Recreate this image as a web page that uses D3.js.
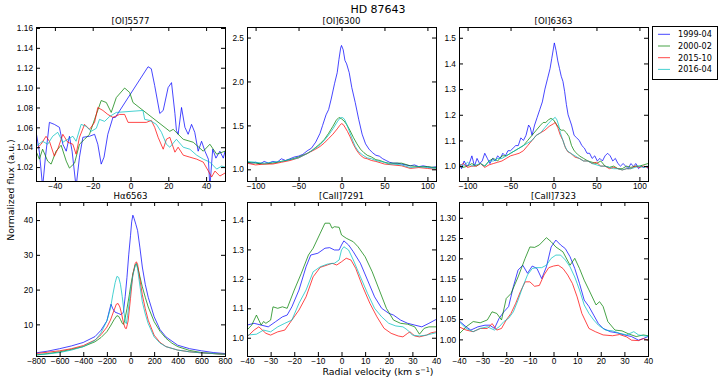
<!DOCTYPE html>
<html>
<head>
<meta charset="utf-8">
<script src="https://cdn.jsdelivr.net/npm/d3@7"></script>
<style>
  body { margin: 0; background: #fff; }
  svg { font-family: 'DejaVu Sans', sans-serif; }
  .tick text { font-size: 8.3px; fill: #000; }
  .tick line { stroke: #000; }
  .frame { fill: none; stroke: #000; stroke-width: 1; shape-rendering: crispEdges; }
  .line { fill: none; stroke-width: 1; stroke-opacity: 0.72; }
  .subtitle { font-size: 8.6px; text-anchor: middle; }
</style>
</head>
<body>
<svg id="chart" width="720" height="379"></svg>
<script>
// legend entries
const epochs = ['1999-04', '2000-02', '2015-10', '2016-04']

// [OI]5577 : [velocity, flux]
const oi5577_1999 = [[-50, 1.056], [-48.2, 1.035], [-46.5, 1.0], [-45, 1.03], [-42.9, 1.065], [-40.3, 1.063], [-37.6, 1.06], [-35.8, 1.043], [-34, 1.036], [-32.3, 1.051], [-30.9, 1.036], [-28.8, 1.0], [-27, 1.03], [-25.2, 1.05], [-21.7, 1.051], [-19, 1.053], [-17.3, 1.043], [-15.5, 1.023], [-14, 1.03], [-12, 1.053], [-9.3, 1.07], [-8, 1.07], [9.3, 1.121], [11, 1.119], [12.8, 1.102], [15.5, 1.074], [17.3, 1.077], [19.9, 1.1], [21.7, 1.105], [23.5, 1.074], [24.3, 1.057], [25.2, 1.053], [27, 1.08], [28.8, 1.06], [30.5, 1.053], [32.3, 1.063], [34, 1.055], [35.8, 1.036], [37.6, 1.046], [39.4, 1.036], [41.2, 1.028], [42, 1.0], [43.5, 1.038], [45.2, 1.029], [47.3, 1.036], [49.1, 1.029], [50, 1.036]]
const oi5577_2000 = [[-50, 1.036], [-48.2, 1.028], [-46.5, 1.038], [-43.8, 1.026], [-42, 1.023], [-39.4, 1.036], [-36.7, 1.042], [-34, 1.026], [-32.3, 1.019], [-29.6, 1.024], [-27, 1.043], [-24.3, 1.048], [-21.7, 1.053], [-19, 1.068], [-15.5, 1.087], [-12.8, 1.085], [-10.2, 1.075], [-7.5, 1.09], [-3.1, 1.0996], [-0.4, 1.095], [1.3, 1.085], [20.8, 1.056], [22.6, 1.058], [27.9, 1.048], [33.2, 1.045], [38.5, 1.036], [42, 1.043], [45.6, 1.033], [50, 1.036]]
const oi5577_2015 = [[-50, 1.038], [-47.3, 1.043], [-44.7, 1.051], [-42.9, 1.046], [-40.3, 1.031], [-38.5, 1.038], [-35.8, 1.053], [-33.2, 1.045], [-30.5, 1.043], [-28.8, 1.033], [-27, 1.05], [-24.3, 1.063], [-21.7, 1.058], [-19, 1.065], [-17.3, 1.08], [-14.6, 1.077], [-12, 1.073], [-9.3, 1.07], [-5.8, 1.073], [-3.1, 1.073], [-1.3, 1.065], [8.4, 1.065], [11, 1.067], [12.8, 1.06], [14.6, 1.05], [17.3, 1.038], [19, 1.048], [20.8, 1.05], [23.5, 1.035], [25.2, 1.04], [27.9, 1.032], [31.4, 1.03], [35, 1.028], [38.5, 1.025], [41.2, 1.016], [42.9, 1.01], [44.7, 1.016], [47.3, 1.011], [50, 1.014]]
const oi5577_2016 = [[-50, 1.041], [-46.5, 1.046], [-43.8, 1.043], [-41.2, 1.051], [-38.5, 1.055], [-35.8, 1.045], [-33.2, 1.048], [-30.5, 1.051], [-28.8, 1.046], [-26.1, 1.063], [-23.5, 1.061], [-20.8, 1.056], [-18.1, 1.059], [-16.4, 1.068], [-13.7, 1.066], [-11, 1.071], [-7.5, 1.075], [6.6, 1.077], [7.5, 1.068], [10.2, 1.067], [13.7, 1.063], [16.4, 1.055], [19, 1.043], [20.8, 1.04], [24.3, 1.048], [27.9, 1.04], [31.4, 1.038], [35, 1.032], [38.5, 1.028], [42, 1.025], [45.6, 1.018], [48.2, 1.021], [50, 1.02]]

// [OI]6300
const oi6300_1999 = [[-110, 1.08], [-105, 1.07], [-100, 1.08], [-95, 1.06], [-90, 1.09], [-85, 1.07], [-80, 1.09], [-75, 1.08], [-70, 1.12], [-65, 1.1], [-60, 1.12], [-55, 1.14], [-50, 1.15], [-45, 1.17], [-40, 1.21], [-35, 1.24], [-30, 1.31], [-25, 1.41], [-22, 1.5], [-18, 1.62], [-15, 1.68], [-12, 1.8], [-8, 1.98], [-5, 2.1], [-3, 2.25], [-1, 2.38], [0, 2.41], [2, 2.36], [4, 2.24], [6, 2.2], [9, 2.1], [12, 1.93], [16, 1.76], [20, 1.57], [24, 1.4], [28, 1.29], [32, 1.23], [36, 1.19], [40, 1.16], [44, 1.15], [48, 1.12], [52, 1.1], [56, 1.08], [60, 1.07], [65, 1.07], [70, 1.06], [75, 1.05], [80, 1.04], [85, 1.05], [90, 1.03], [95, 1.04], [100, 1.03], [105, 1.02], [110, 1.03]]
const oi6300_2000 = [[-110, 1.08], [-100, 1.07], [-90, 1.06], [-80, 1.07], [-70, 1.09], [-60, 1.11], [-50, 1.14], [-45, 1.16], [-40, 1.18], [-35, 1.21], [-30, 1.25], [-25, 1.29], [-20, 1.34], [-15, 1.41], [-10, 1.49], [-6, 1.56], [-3, 1.59], [0, 1.575], [3, 1.55], [6, 1.51], [10, 1.44], [14, 1.36], [18, 1.29], [22, 1.23], [26, 1.19], [30, 1.16], [35, 1.14], [40, 1.11], [45, 1.1], [50, 1.08], [55, 1.07], [60, 1.07], [70, 1.07], [80, 1.04], [90, 1.03], [100, 1.03], [110, 1.02]]
const oi6300_2015 = [[-110, 1.07], [-100, 1.05], [-90, 1.06], [-80, 1.06], [-70, 1.08], [-60, 1.1], [-50, 1.13], [-40, 1.18], [-30, 1.23], [-25, 1.26], [-20, 1.3], [-15, 1.35], [-10, 1.4], [-5, 1.46], [-2, 1.5], [0, 1.52], [2, 1.51], [4, 1.48], [7, 1.43], [10, 1.37], [14, 1.28], [18, 1.21], [22, 1.16], [26, 1.13], [30, 1.12], [35, 1.1], [40, 1.09], [50, 1.06], [60, 1.05], [70, 1.04], [80, 1.01], [90, 1.02], [100, 1.01], [110, 1.0]]
const oi6300_2016 = [[-110, 1.09], [-100, 1.08], [-90, 1.07], [-80, 1.08], [-70, 1.09], [-60, 1.11], [-50, 1.13], [-40, 1.18], [-30, 1.24], [-25, 1.28], [-20, 1.33], [-15, 1.39], [-10, 1.46], [-5, 1.54], [-2, 1.58], [0, 1.59], [2, 1.585], [4, 1.56], [7, 1.49], [10, 1.41], [13, 1.33], [16, 1.26], [20, 1.2], [25, 1.16], [30, 1.13], [35, 1.12], [40, 1.1], [50, 1.08], [55, 1.06], [60, 1.06], [70, 1.05], [80, 1.02], [90, 1.03], [100, 1.02], [110, 1.01]]

// [OI]6363
const oi6363_1999 = [[-110, 1.01], [-107, 0.99], [-104, 1.02], [-101, 1.0], [-98, 1.01], [-95, 1.04], [-92, 1.0], [-89, 1.03], [-86, 1.01], [-83, 1.02], [-80, 1.05], [-77, 1.03], [-74, 1.01], [-71, 1.03], [-68, 1.02], [-65, 1.04], [-62, 1.03], [-59, 1.05], [-56, 1.04], [-53, 1.06], [-50, 1.06], [-47, 1.07], [-44, 1.08], [-41, 1.08], [-38, 1.11], [-35, 1.1], [-32, 1.12], [-29, 1.16], [-27, 1.15], [-25, 1.12], [-22, 1.16], [-19, 1.19], [-16, 1.22], [-13, 1.25], [-10, 1.3], [-7, 1.34], [-4, 1.38], [-2, 1.42], [0, 1.46], [1, 1.48], [3, 1.45], [5, 1.41], [7, 1.38], [9, 1.35], [11, 1.33], [13, 1.29], [15, 1.24], [17, 1.2], [19, 1.18], [21, 1.16], [24, 1.12], [27, 1.11], [30, 1.1], [33, 1.08], [36, 1.07], [39, 1.05], [42, 1.05], [45, 1.03], [48, 1.04], [51, 1.02], [54, 1.03], [57, 1.02], [60, 1.04], [63, 1.05], [66, 1.04], [69, 1.02], [72, 1.03], [75, 1.01], [78, 1.0], [81, 1.01], [84, 1.0], [87, 0.99], [90, 1.01], [93, 1.0], [96, 1.01], [99, 0.99], [102, 1.0], [105, 0.995], [108, 1.0], [110, 0.99]]
const oi6363_2000 = [[-110, 1.0], [-105, 0.995], [-100, 1.0], [-95, 1.01], [-90, 1.0], [-85, 1.01], [-80, 1.0], [-75, 1.02], [-70, 1.03], [-65, 1.02], [-60, 1.04], [-55, 1.04], [-50, 1.05], [-45, 1.06], [-40, 1.07], [-35, 1.08], [-30, 1.1], [-25, 1.12], [-20, 1.14], [-15, 1.16], [-12, 1.17], [-9, 1.17], [-6, 1.18], [-3, 1.186], [0, 1.18], [3, 1.165], [6, 1.15], [9, 1.14], [12, 1.14], [15, 1.13], [18, 1.115], [21, 1.08], [24, 1.06], [27, 1.05], [30, 1.04], [35, 1.03], [40, 1.02], [45, 1.015], [50, 1.01], [55, 1.02], [60, 1.0], [65, 0.995], [70, 1.0], [75, 0.99], [80, 0.99], [85, 1.0], [90, 0.995], [95, 1.0], [100, 1.0], [105, 1.005], [110, 1.01]]
const oi6363_2015 = [[-110, 1.0], [-105, 1.01], [-100, 0.995], [-95, 1.0], [-90, 1.0], [-85, 1.01], [-80, 0.995], [-75, 1.005], [-70, 1.01], [-65, 1.015], [-60, 1.02], [-55, 1.03], [-50, 1.04], [-45, 1.045], [-40, 1.05], [-35, 1.06], [-30, 1.08], [-25, 1.1], [-20, 1.12], [-15, 1.13], [-10, 1.14], [-5, 1.155], [0, 1.165], [2, 1.17], [5, 1.15], [8, 1.12], [11, 1.1], [14, 1.07], [17, 1.055], [20, 1.05], [25, 1.035], [30, 1.03], [35, 1.02], [40, 1.02], [45, 1.01], [50, 1.015], [55, 1.0], [60, 1.0], [65, 0.99], [70, 0.995], [75, 0.99], [80, 0.985], [85, 0.99], [90, 0.99], [95, 1.0], [100, 0.995], [105, 1.0], [110, 0.995]]
const oi6363_2016 = [[-110, 1.01], [-105, 1.0], [-100, 1.015], [-95, 1.0], [-90, 1.005], [-85, 1.01], [-80, 1.0], [-75, 1.02], [-70, 1.02], [-65, 1.03], [-60, 1.03], [-55, 1.04], [-50, 1.05], [-45, 1.06], [-40, 1.07], [-35, 1.08], [-30, 1.09], [-25, 1.1], [-20, 1.12], [-15, 1.13], [-10, 1.15], [-5, 1.17], [-2, 1.18], [0, 1.185], [2, 1.19], [4, 1.18], [6, 1.16], [8, 1.13], [10, 1.11], [13, 1.08], [16, 1.06], [20, 1.05], [25, 1.04], [30, 1.03], [35, 1.02], [40, 1.02], [45, 1.01], [50, 1.005], [55, 1.0], [60, 1.0], [65, 0.995], [70, 0.99], [75, 0.99], [80, 0.985], [85, 0.99], [90, 0.99], [95, 0.995], [100, 1.0], [105, 0.995], [110, 1.0]]

// Halpha 6563
const ha6563_1999 = [[-800, 1.8], [-700, 2.3], [-600, 3.0], [-500, 3.8], [-400, 4.8], [-300, 6.5], [-250, 8.3], [-200, 11.0], [-180, 13.8], [-165, 15.8], [-150, 14.5], [-130, 13.5], [-100, 13.1], [-80, 12.8], [-60, 13.5], [-45, 18], [-30, 23.5], [-15, 30], [0, 35.5], [10, 39.5], [20, 41.4], [30, 40.5], [45, 38.8], [60, 37.0], [80, 32.0], [100, 26.5], [125, 21.5], [150, 17.8], [200, 12.2], [250, 8.5], [300, 6.4], [400, 4.0], [500, 3.0], [600, 2.4], [700, 1.9], [800, 1.6]]
const ha6563_2000 = [[-800, 1.2], [-700, 1.6], [-600, 2.1], [-500, 2.8], [-400, 3.6], [-300, 5.0], [-250, 6.2], [-200, 7.9], [-170, 9.5], [-140, 11.3], [-115, 12.5], [-100, 12.3], [-85, 11.4], [-70, 10.3], [-60, 10.0], [-50, 11.0], [-30, 14.5], [-10, 18.5], [0, 20.8], [20, 24.5], [40, 27.0], [50, 27.5], [60, 26.5], [80, 23.7], [100, 20.8], [125, 17.8], [150, 15.0], [200, 10.8], [250, 8.0], [300, 6.0], [350, 4.6], [400, 3.6], [500, 2.5], [600, 1.9], [700, 1.6], [800, 1.4]]
const ha6563_2015 = [[-800, 1.6], [-700, 2.0], [-600, 2.4], [-500, 3.0], [-400, 3.9], [-300, 5.5], [-250, 7.0], [-200, 9.2], [-170, 11.2], [-140, 14.0], [-120, 15.8], [-105, 16.0], [-90, 15.0], [-75, 13.0], [-60, 10.5], [-45, 8.9], [-35, 8.8], [-20, 11], [0, 17.5], [20, 24.5], [40, 27.5], [50, 28.0], [60, 27.3], [80, 22.8], [100, 18.5], [125, 14.5], [150, 11.2], [200, 6.9], [250, 4.8], [300, 3.6], [400, 2.6], [500, 2.1], [600, 1.8], [700, 1.6], [800, 1.4]]
const ha6563_2016 = [[-800, 1.2], [-700, 1.5], [-600, 1.9], [-500, 2.6], [-400, 3.6], [-300, 5.4], [-250, 7.5], [-200, 11.0], [-170, 14.5], [-150, 18.5], [-130, 22.0], [-115, 23.8], [-100, 23.5], [-85, 21.5], [-70, 18.0], [-55, 13.5], [-45, 10.8], [-35, 10.2], [-25, 12.5], [-10, 16.5], [0, 19.5], [20, 24.0], [40, 27.0], [50, 27.4], [60, 26.0], [80, 21.0], [100, 16.5], [125, 13.0], [150, 10.2], [200, 6.4], [250, 4.6], [300, 3.6], [400, 2.6], [500, 2.1], [600, 1.8], [700, 1.6], [800, 1.4]]

// [CaII]7291
const ca7291_1999 = [[-40, 1.043], [-37, 1.049], [-34, 1.043], [-31, 1.037], [-28, 1.054], [-25, 1.071], [-23, 1.077], [-21, 1.105], [-18, 1.162], [-15, 1.241], [-13, 1.281], [-10, 1.287], [-7, 1.304], [-5, 1.306], [-3, 1.298], [-1, 1.298], [0, 1.315], [1, 1.329], [3, 1.315], [5, 1.292], [8, 1.253], [11, 1.196], [14, 1.139], [17, 1.1], [20, 1.083], [22, 1.077], [25, 1.06], [28, 1.049], [31, 1.043], [34, 1.037], [37, 1.049], [40, 1.062]]
const ca7291_2000 = [[-40, 1.026], [-38, 1.043], [-36, 1.077], [-34, 1.043], [-33, 1.055], [-32, 1.049], [-30, 1.06], [-29, 1.105], [-27, 1.1], [-25, 1.105], [-23, 1.1], [-20, 1.162], [-17, 1.219], [-14, 1.281], [-12, 1.304], [-9, 1.355], [-7, 1.389], [-5, 1.389], [-4, 1.372], [-3, 1.377], [-1, 1.375], [0, 1.349], [2, 1.338], [5, 1.326], [7, 1.309], [10, 1.275], [13, 1.224], [16, 1.162], [19, 1.1], [22, 1.06], [25, 1.049], [28, 1.046], [31, 1.037], [33, 1.012], [35, 1.032], [37, 1.037], [40, 1.037]]
const ca7291_2015 = [[-40, 1.003], [-37, 1.026], [-35, 1.037], [-32, 1.015], [-30, 1.009], [-27, 1.02], [-24, 1.026], [-21, 1.06], [-18, 1.094], [-15, 1.139], [-12, 1.207], [-9, 1.239], [-6, 1.247], [-4, 1.253], [-2, 1.247], [0, 1.258], [2, 1.27], [4, 1.264], [6, 1.236], [9, 1.173], [12, 1.117], [15, 1.071], [18, 1.032], [21, 1.015], [24, 1.006], [26, 1.003], [28, 1.015], [29, 1.02], [31, 1.006], [33, 1.003], [36, 1.009], [38, 1.017], [40, 1.02]]
const ca7291_2016 = [[-40, 1.009], [-36, 1.012], [-33, 1.026], [-30, 1.02], [-27, 1.037], [-24, 1.049], [-21, 1.06], [-18, 1.117], [-15, 1.162], [-12, 1.224], [-9, 1.241], [-6, 1.25], [-3, 1.253], [-1, 1.264], [0, 1.298], [1, 1.309], [3, 1.298], [5, 1.264], [8, 1.207], [11, 1.151], [14, 1.1], [17, 1.071], [20, 1.049], [23, 1.04], [26, 1.037], [28, 1.026], [30, 1.009], [33, 1.006], [36, 1.009], [40, 1.017]]

// [CaII]7323
const ca7323_1999 = [[-40, 1.046], [-37, 1.031], [-35, 1.023], [-32, 1.031], [-29, 1.035], [-27, 1.035], [-25, 1.027], [-23, 1.052], [-21, 1.068], [-19, 1.081], [-17, 1.13], [-15, 1.171], [-13, 1.183], [-11, 1.163], [-9, 1.181], [-7, 1.175], [-5, 1.15], [-3, 1.179], [-1, 1.228], [1, 1.245], [3, 1.233], [5, 1.224], [7, 1.204], [9, 1.175], [11, 1.138], [13, 1.097], [15, 1.081], [17, 1.06], [19, 1.039], [21, 1.027], [24, 1.019], [27, 1.016], [30, 1.011], [33, 1.007], [36, 0.998], [38, 1.002], [40, 1.007]]
const ca7323_2000 = [[-40, 1.013], [-37, 1.031], [-34, 1.044], [-31, 1.041], [-28, 1.048], [-26, 1.068], [-24, 1.064], [-22, 1.048], [-20, 1.101], [-18, 1.113], [-15, 1.154], [-12, 1.2], [-10, 1.228], [-8, 1.227], [-6, 1.233], [-3, 1.251], [-1, 1.241], [1, 1.228], [4, 1.216], [7, 1.183], [9, 1.2], [11, 1.175], [13, 1.146], [15, 1.122], [18, 1.085], [19.5, 1.093], [21, 1.081], [23, 1.044], [26, 1.023], [29, 1.021], [32, 1.013], [35, 1.007], [38, 1.011], [40, 1.009]]
const ca7323_2015 = [[-40, 1.031], [-37, 1.023], [-34, 1.019], [-31, 1.027], [-28, 1.027], [-26, 1.039], [-24, 1.023], [-22, 1.027], [-20, 1.048], [-18, 1.064], [-16, 1.089], [-14, 1.118], [-12, 1.142], [-10, 1.142], [-8, 1.131], [-6, 1.133], [-4, 1.159], [-2, 1.177], [0, 1.181], [2, 1.183], [4, 1.175], [6, 1.159], [8, 1.138], [10, 1.105], [12, 1.064], [15, 1.027], [17.7, 1.019], [21, 1.011], [25, 1.009], [28, 1.012], [31, 1.006], [33, 0.998], [36, 0.997], [38, 1.002], [40, 0.998]]
const ca7323_2016 = [[-40, 1.044], [-37, 1.027], [-34, 1.019], [-31, 1.027], [-28, 1.031], [-25, 1.023], [-23, 1.031], [-21, 1.044], [-19, 1.052], [-17, 1.068], [-15, 1.097], [-13, 1.13], [-11, 1.159], [-9, 1.175], [-7, 1.177], [-5, 1.177], [-3, 1.183], [-1, 1.2], [1, 1.208], [3, 1.208], [5, 1.196], [7, 1.179], [9, 1.154], [11, 1.122], [13, 1.085], [15, 1.064], [17, 1.048], [19, 1.035], [22, 1.023], [25, 1.021], [28, 1.015], [31, 1.011], [34, 1.019], [36, 1.011], [38, 1.009], [40, 1.008]]

// tick values
const ticksX5577 = [-40, -20, 0, 20, 40]
const ticksY5577 = [1.02, 1.04, 1.06, 1.08, 1.10, 1.12, 1.14, 1.16]
const ticksX6300 = [-100, -50, 0, 50, 100]
const ticksY6300 = [1.0, 1.5, 2.0, 2.5]
const ticksY6363 = [1.0, 1.1, 1.2, 1.3, 1.4, 1.5]
const ticksXHa = [-800, -600, -400, -200, 0, 200, 400, 600, 800]
const ticksYHa = [10, 20, 30, 40]
const ticksXCa = [-40, -30, -20, -10, 0, 10, 20, 30, 40]
const ticksY7291 = [1.0, 1.1, 1.2, 1.3, 1.4]
const ticksY7323 = [1.00, 1.05, 1.10, 1.15, 1.20, 1.25, 1.30]

const colors = ['#0000ff', '#008000', '#ff0000', '#00bfbf']

const panels = [
  { title: '[OI]5577', series: [oi5577_1999, oi5577_2000, oi5577_2015, oi5577_2016], xd: [-50, 50], yd: [1.006, 1.161], xt: ticksX5577, yt: ticksY5577, yf: '.2f' },
  { title: '[OI]6300', series: [oi6300_1999, oi6300_2000, oi6300_2015, oi6300_2016], xd: [-110, 110], yd: [0.867, 2.62], xt: ticksX6300, yt: ticksY6300, yf: '.1f' },
  { title: '[OI]6363', series: [oi6363_1999, oi6363_2000, oi6363_2015, oi6363_2016], xd: [-110, 110], yd: [0.942, 1.542], xt: ticksX6300, yt: ticksY6363, yf: '.1f' },
  { title: 'Hα6563', series: [ha6563_1999, ha6563_2000, ha6563_2015, ha6563_2016], xd: [-800, 800], yd: [0.9, 45.2], xt: ticksXHa, yt: ticksYHa, yf: 'd' },
  { title: '[CaII]7291', series: [ca7291_1999, ca7291_2000, ca7291_2015, ca7291_2016], xd: [-40, 40], yd: [0.938, 1.461], xt: ticksXCa, yt: ticksY7291, yf: '.1f' },
  { title: '[CaII]7323', series: [ca7323_1999, ca7323_2000, ca7323_2015, ca7323_2016], xd: [-40, 40], yd: [0.959, 1.339], xt: ticksXCa, yt: ticksY7323, yf: '.2f' }
]

const svg = d3.select('#chart')
const colLeft = [36, 247, 459]
const rowTop = [27, 202]
const pw = 189
const ph = 154

panels.forEach((p, i) => {
  const left = colLeft[i % 3]
  const top = rowTop[Math.floor(i / 3)]
  const g = svg.append('g').attr('transform', 'translate(' + left + ',' + top + ')')

  const x = d3.scaleLinear().domain(p.xd).range([0, pw])
  const y = d3.scaleLinear().domain(p.yd).range([ph, 0])

  g.append('clipPath').attr('id', 'clip' + i)
    .append('rect').attr('width', pw).attr('height', ph)

  const line = d3.line().x(d => x(d[0])).y(d => y(d[1]))
  g.append('g').attr('clip-path', 'url(#clip' + i + ')')
    .selectAll('path').data(p.series).join('path')
    .attr('class', 'line')
    .attr('stroke', (d, k) => colors[k])
    .attr('d', line)

  // ticks inward on all four sides, labels bottom and left only
  g.append('g').attr('transform', 'translate(0,' + ph + ')')
    .call(d3.axisBottom(x).tickValues(p.xt).tickSize(-4).tickPadding(2.5).tickFormat(d3.format('d')))
    .call(a => a.select('.domain').remove())
  g.append('g')
    .call(d3.axisTop(x).tickValues(p.xt).tickSize(-4).tickFormat(''))
    .call(a => a.select('.domain').remove())
  g.append('g')
    .call(d3.axisLeft(y).tickValues(p.yt).tickSize(-4).tickPadding(3).tickFormat(d3.format(p.yf)))
    .call(a => a.select('.domain').remove())
  g.append('g').attr('transform', 'translate(' + pw + ',0)')
    .call(d3.axisRight(y).tickValues(p.yt).tickSize(-4).tickFormat(''))
    .call(a => a.select('.domain').remove())

  g.append('rect').attr('class', 'frame')
    .attr('x', 0.5).attr('y', 0.5).attr('width', pw).attr('height', ph)

  g.append('text').attr('class', 'subtitle')
    .attr('x', pw / 2).attr('y', -3.5)
    .text(p.title)
})

// figure title and shared axis labels
svg.append('text').attr('x', 378).attr('y', 13)
  .attr('text-anchor', 'middle').style('font-size', '11px')
  .text('HD 87643')

svg.append('text')
  .attr('transform', 'translate(14,190) rotate(-90)')
  .attr('text-anchor', 'middle').style('font-size', '9.4px')
  .text('Normalized flux (a.u.)')

const xl = svg.append('text').attr('x', 378).attr('y', 375)
  .attr('text-anchor', 'middle').style('font-size', '9.4px')
xl.append('tspan').text('Radial velocity (km s')
xl.append('tspan').attr('dy', -3.5).style('font-size', '6.6px').text('−1')
xl.append('tspan').attr('dy', 3.5).text(')')

// legend
const lg = svg.append('g').attr('transform', 'translate(652,26)')
lg.append('rect').attr('class', 'frame')
  .attr('x', 0.5).attr('y', 0.5).attr('width', 65).attr('height', 53)
const items = lg.selectAll('g.item').data(epochs).join('g')
  .attr('class', 'item')
  .attr('transform', (d, k) => 'translate(0,' + (8.3 + k * 11.7) + ')')
items.append('line')
  .attr('x1', 6).attr('x2', 18).attr('y1', 0).attr('y2', 0)
  .attr('stroke', (d, k) => colors[k]).attr('stroke-opacity', 0.72)
items.append('text')
  .attr('x', 26).attr('dy', '0.35em').style('font-size', '8.1px')
  .text(d => d)
</script>
</body>
</html>
